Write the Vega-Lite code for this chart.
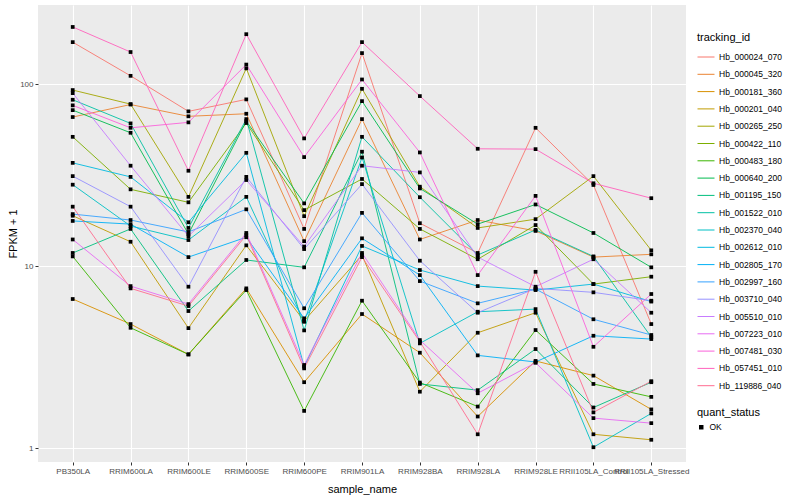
{
"$schema": "https://vega.github.io/schema/vega-lite/v6.json",
"width": 648, "height": 457,
"autosize": {"type": "none"},
"padding": {"left": 38, "top": 5, "right": 114, "bottom": 38},
"background": "white",
"config": {
 "font": "Liberation Sans",
 "view": {"fill": "#EBEBEB", "stroke": null},
 "axis": {"gridColor": "white", "gridWidth": 1.1, "domain": false, "tickColor": "#333333", "tickSize": 3, "labelColor": "#4D4D4D", "labelFontSize": 8, "titleFontSize": 11, "titleFontWeight": "normal", "titleColor": "black", "labelFont": "Liberation Sans", "titleFont": "Liberation Sans"},
 "legend": {"titleFontSize": 11, "titleFontWeight": "normal", "labelFontSize": 8.5, "labelColor": "black", "titleColor": "black", "labelFont": "Liberation Sans", "titleFont": "Liberation Sans"}
},
"datasets": {"genes": [
{"tracking_id":"Hb_000024_070","sample_name":"PB350LA","fpkm_plus_1":170,"quant_status":"OK"},
{"tracking_id":"Hb_000024_070","sample_name":"RRIM600LA","fpkm_plus_1":111,"quant_status":"OK"},
{"tracking_id":"Hb_000024_070","sample_name":"RRIM600LE","fpkm_plus_1":70.8,"quant_status":"OK"},
{"tracking_id":"Hb_000024_070","sample_name":"RRIM600SE","fpkm_plus_1":82.4,"quant_status":"OK"},
{"tracking_id":"Hb_000024_070","sample_name":"RRIM600PE","fpkm_plus_1":16.0,"quant_status":"OK"},
{"tracking_id":"Hb_000024_070","sample_name":"RRIM901LA","fpkm_plus_1":148,"quant_status":"OK"},
{"tracking_id":"Hb_000024_070","sample_name":"RRIM928BA","fpkm_plus_1":17.2,"quant_status":"OK"},
{"tracking_id":"Hb_000024_070","sample_name":"RRIM928LA","fpkm_plus_1":11.8,"quant_status":"OK"},
{"tracking_id":"Hb_000024_070","sample_name":"RRIM928LE","fpkm_plus_1":57.5,"quant_status":"OK"},
{"tracking_id":"Hb_000024_070","sample_name":"RRII105LA_Control","fpkm_plus_1":27.9,"quant_status":"OK"},
{"tracking_id":"Hb_000024_070","sample_name":"RRII105LA_Stressed","fpkm_plus_1":4.80,"quant_status":"OK"},
{"tracking_id":"Hb_000045_320","sample_name":"PB350LA","fpkm_plus_1":65.9,"quant_status":"OK"},
{"tracking_id":"Hb_000045_320","sample_name":"RRIM600LA","fpkm_plus_1":77.2,"quant_status":"OK"},
{"tracking_id":"Hb_000045_320","sample_name":"RRIM600LE","fpkm_plus_1":66.5,"quant_status":"OK"},
{"tracking_id":"Hb_000045_320","sample_name":"RRIM600SE","fpkm_plus_1":68.7,"quant_status":"OK"},
{"tracking_id":"Hb_000045_320","sample_name":"RRIM600PE","fpkm_plus_1":13.7,"quant_status":"OK"},
{"tracking_id":"Hb_000045_320","sample_name":"RRIM901LA","fpkm_plus_1":64.2,"quant_status":"OK"},
{"tracking_id":"Hb_000045_320","sample_name":"RRIM928BA","fpkm_plus_1":14.0,"quant_status":"OK"},
{"tracking_id":"Hb_000045_320","sample_name":"RRIM928LA","fpkm_plus_1":17.9,"quant_status":"OK"},
{"tracking_id":"Hb_000045_320","sample_name":"RRIM928LE","fpkm_plus_1":15.6,"quant_status":"OK"},
{"tracking_id":"Hb_000045_320","sample_name":"RRII105LA_Control","fpkm_plus_1":11.2,"quant_status":"OK"},
{"tracking_id":"Hb_000045_320","sample_name":"RRII105LA_Stressed","fpkm_plus_1":11.6,"quant_status":"OK"},
{"tracking_id":"Hb_000181_360","sample_name":"PB350LA","fpkm_plus_1":6.59,"quant_status":"OK"},
{"tracking_id":"Hb_000181_360","sample_name":"RRIM600LA","fpkm_plus_1":4.80,"quant_status":"OK"},
{"tracking_id":"Hb_000181_360","sample_name":"RRIM600LE","fpkm_plus_1":3.27,"quant_status":"OK"},
{"tracking_id":"Hb_000181_360","sample_name":"RRIM600SE","fpkm_plus_1":7.54,"quant_status":"OK"},
{"tracking_id":"Hb_000181_360","sample_name":"RRIM600PE","fpkm_plus_1":2.30,"quant_status":"OK"},
{"tracking_id":"Hb_000181_360","sample_name":"RRIM901LA","fpkm_plus_1":5.45,"quant_status":"OK"},
{"tracking_id":"Hb_000181_360","sample_name":"RRIM928BA","fpkm_plus_1":3.34,"quant_status":"OK"},
{"tracking_id":"Hb_000181_360","sample_name":"RRIM928LA","fpkm_plus_1":1.49,"quant_status":"OK"},
{"tracking_id":"Hb_000181_360","sample_name":"RRIM928LE","fpkm_plus_1":3.01,"quant_status":"OK"},
{"tracking_id":"Hb_000181_360","sample_name":"RRII105LA_Control","fpkm_plus_1":2.50,"quant_status":"OK"},
{"tracking_id":"Hb_000181_360","sample_name":"RRII105LA_Stressed","fpkm_plus_1":1.63,"quant_status":"OK"},
{"tracking_id":"Hb_000201_040","sample_name":"PB350LA","fpkm_plus_1":18.9,"quant_status":"OK"},
{"tracking_id":"Hb_000201_040","sample_name":"RRIM600LA","fpkm_plus_1":13.6,"quant_status":"OK"},
{"tracking_id":"Hb_000201_040","sample_name":"RRIM600LE","fpkm_plus_1":4.56,"quant_status":"OK"},
{"tracking_id":"Hb_000201_040","sample_name":"RRIM600SE","fpkm_plus_1":13.0,"quant_status":"OK"},
{"tracking_id":"Hb_000201_040","sample_name":"RRIM600PE","fpkm_plus_1":4.99,"quant_status":"OK"},
{"tracking_id":"Hb_000201_040","sample_name":"RRIM901LA","fpkm_plus_1":11.5,"quant_status":"OK"},
{"tracking_id":"Hb_000201_040","sample_name":"RRIM928BA","fpkm_plus_1":2.04,"quant_status":"OK"},
{"tracking_id":"Hb_000201_040","sample_name":"RRIM928LA","fpkm_plus_1":4.30,"quant_status":"OK"},
{"tracking_id":"Hb_000201_040","sample_name":"RRIM928LE","fpkm_plus_1":5.54,"quant_status":"OK"},
{"tracking_id":"Hb_000201_040","sample_name":"RRII105LA_Control","fpkm_plus_1":1.19,"quant_status":"OK"},
{"tracking_id":"Hb_000201_040","sample_name":"RRII105LA_Stressed","fpkm_plus_1":1.11,"quant_status":"OK"},
{"tracking_id":"Hb_000265_250","sample_name":"PB350LA","fpkm_plus_1":92.7,"quant_status":"OK"},
{"tracking_id":"Hb_000265_250","sample_name":"RRIM600LA","fpkm_plus_1":77.6,"quant_status":"OK"},
{"tracking_id":"Hb_000265_250","sample_name":"RRIM600LE","fpkm_plus_1":24.0,"quant_status":"OK"},
{"tracking_id":"Hb_000265_250","sample_name":"RRIM600SE","fpkm_plus_1":122,"quant_status":"OK"},
{"tracking_id":"Hb_000265_250","sample_name":"RRIM600PE","fpkm_plus_1":18.8,"quant_status":"OK"},
{"tracking_id":"Hb_000265_250","sample_name":"RRIM901LA","fpkm_plus_1":94.2,"quant_status":"OK"},
{"tracking_id":"Hb_000265_250","sample_name":"RRIM928BA","fpkm_plus_1":27.3,"quant_status":"OK"},
{"tracking_id":"Hb_000265_250","sample_name":"RRIM928LA","fpkm_plus_1":16.2,"quant_status":"OK"},
{"tracking_id":"Hb_000265_250","sample_name":"RRIM928LE","fpkm_plus_1":18.1,"quant_status":"OK"},
{"tracking_id":"Hb_000265_250","sample_name":"RRII105LA_Control","fpkm_plus_1":31.2,"quant_status":"OK"},
{"tracking_id":"Hb_000265_250","sample_name":"RRII105LA_Stressed","fpkm_plus_1":12.2,"quant_status":"OK"},
{"tracking_id":"Hb_000422_110","sample_name":"PB350LA","fpkm_plus_1":51.3,"quant_status":"OK"},
{"tracking_id":"Hb_000422_110","sample_name":"RRIM600LA","fpkm_plus_1":26.4,"quant_status":"OK"},
{"tracking_id":"Hb_000422_110","sample_name":"RRIM600LE","fpkm_plus_1":22.4,"quant_status":"OK"},
{"tracking_id":"Hb_000422_110","sample_name":"RRIM600SE","fpkm_plus_1":61.1,"quant_status":"OK"},
{"tracking_id":"Hb_000422_110","sample_name":"RRIM600PE","fpkm_plus_1":20.3,"quant_status":"OK"},
{"tracking_id":"Hb_000422_110","sample_name":"RRIM901LA","fpkm_plus_1":30.1,"quant_status":"OK"},
{"tracking_id":"Hb_000422_110","sample_name":"RRIM928BA","fpkm_plus_1":16.0,"quant_status":"OK"},
{"tracking_id":"Hb_000422_110","sample_name":"RRIM928LA","fpkm_plus_1":10.9,"quant_status":"OK"},
{"tracking_id":"Hb_000422_110","sample_name":"RRIM928LE","fpkm_plus_1":16.8,"quant_status":"OK"},
{"tracking_id":"Hb_000422_110","sample_name":"RRII105LA_Control","fpkm_plus_1":7.96,"quant_status":"OK"},
{"tracking_id":"Hb_000422_110","sample_name":"RRII105LA_Stressed","fpkm_plus_1":8.74,"quant_status":"OK"},
{"tracking_id":"Hb_000483_180","sample_name":"PB350LA","fpkm_plus_1":11.3,"quant_status":"OK"},
{"tracking_id":"Hb_000483_180","sample_name":"RRIM600LA","fpkm_plus_1":4.58,"quant_status":"OK"},
{"tracking_id":"Hb_000483_180","sample_name":"RRIM600LE","fpkm_plus_1":3.27,"quant_status":"OK"},
{"tracking_id":"Hb_000483_180","sample_name":"RRIM600SE","fpkm_plus_1":7.38,"quant_status":"OK"},
{"tracking_id":"Hb_000483_180","sample_name":"RRIM600PE","fpkm_plus_1":1.60,"quant_status":"OK"},
{"tracking_id":"Hb_000483_180","sample_name":"RRIM901LA","fpkm_plus_1":6.45,"quant_status":"OK"},
{"tracking_id":"Hb_000483_180","sample_name":"RRIM928BA","fpkm_plus_1":2.29,"quant_status":"OK"},
{"tracking_id":"Hb_000483_180","sample_name":"RRIM928LA","fpkm_plus_1":1.69,"quant_status":"OK"},
{"tracking_id":"Hb_000483_180","sample_name":"RRIM928LE","fpkm_plus_1":4.45,"quant_status":"OK"},
{"tracking_id":"Hb_000483_180","sample_name":"RRII105LA_Control","fpkm_plus_1":2.25,"quant_status":"OK"},
{"tracking_id":"Hb_000483_180","sample_name":"RRII105LA_Stressed","fpkm_plus_1":1.91,"quant_status":"OK"},
{"tracking_id":"Hb_000640_200","sample_name":"PB350LA","fpkm_plus_1":71.9,"quant_status":"OK"},
{"tracking_id":"Hb_000640_200","sample_name":"RRIM600LA","fpkm_plus_1":54.0,"quant_status":"OK"},
{"tracking_id":"Hb_000640_200","sample_name":"RRIM600LE","fpkm_plus_1":15.0,"quant_status":"OK"},
{"tracking_id":"Hb_000640_200","sample_name":"RRIM600SE","fpkm_plus_1":62.6,"quant_status":"OK"},
{"tracking_id":"Hb_000640_200","sample_name":"RRIM600PE","fpkm_plus_1":22.1,"quant_status":"OK"},
{"tracking_id":"Hb_000640_200","sample_name":"RRIM901LA","fpkm_plus_1":80.6,"quant_status":"OK"},
{"tracking_id":"Hb_000640_200","sample_name":"RRIM928BA","fpkm_plus_1":26.7,"quant_status":"OK"},
{"tracking_id":"Hb_000640_200","sample_name":"RRIM928LA","fpkm_plus_1":17.0,"quant_status":"OK"},
{"tracking_id":"Hb_000640_200","sample_name":"RRIM928LE","fpkm_plus_1":21.8,"quant_status":"OK"},
{"tracking_id":"Hb_000640_200","sample_name":"RRII105LA_Control","fpkm_plus_1":15.2,"quant_status":"OK"},
{"tracking_id":"Hb_000640_200","sample_name":"RRII105LA_Stressed","fpkm_plus_1":9.84,"quant_status":"OK"},
{"tracking_id":"Hb_001195_150","sample_name":"PB350LA","fpkm_plus_1":11.8,"quant_status":"OK"},
{"tracking_id":"Hb_001195_150","sample_name":"RRIM600LA","fpkm_plus_1":16.0,"quant_status":"OK"},
{"tracking_id":"Hb_001195_150","sample_name":"RRIM600LE","fpkm_plus_1":5.66,"quant_status":"OK"},
{"tracking_id":"Hb_001195_150","sample_name":"RRIM600SE","fpkm_plus_1":10.8,"quant_status":"OK"},
{"tracking_id":"Hb_001195_150","sample_name":"RRIM600PE","fpkm_plus_1":9.84,"quant_status":"OK"},
{"tracking_id":"Hb_001195_150","sample_name":"RRIM901LA","fpkm_plus_1":42.5,"quant_status":"OK"},
{"tracking_id":"Hb_001195_150","sample_name":"RRIM928BA","fpkm_plus_1":2.25,"quant_status":"OK"},
{"tracking_id":"Hb_001195_150","sample_name":"RRIM928LA","fpkm_plus_1":2.08,"quant_status":"OK"},
{"tracking_id":"Hb_001195_150","sample_name":"RRIM928LE","fpkm_plus_1":3.50,"quant_status":"OK"},
{"tracking_id":"Hb_001195_150","sample_name":"RRII105LA_Control","fpkm_plus_1":1.67,"quant_status":"OK"},
{"tracking_id":"Hb_001195_150","sample_name":"RRII105LA_Stressed","fpkm_plus_1":2.30,"quant_status":"OK"},
{"tracking_id":"Hb_001522_010","sample_name":"PB350LA","fpkm_plus_1":82.0,"quant_status":"OK"},
{"tracking_id":"Hb_001522_010","sample_name":"RRIM600LA","fpkm_plus_1":60.8,"quant_status":"OK"},
{"tracking_id":"Hb_001522_010","sample_name":"RRIM600LE","fpkm_plus_1":16.2,"quant_status":"OK"},
{"tracking_id":"Hb_001522_010","sample_name":"RRIM600SE","fpkm_plus_1":64.2,"quant_status":"OK"},
{"tracking_id":"Hb_001522_010","sample_name":"RRIM600PE","fpkm_plus_1":4.43,"quant_status":"OK"},
{"tracking_id":"Hb_001522_010","sample_name":"RRIM901LA","fpkm_plus_1":51.3,"quant_status":"OK"},
{"tracking_id":"Hb_001522_010","sample_name":"RRIM928BA","fpkm_plus_1":23.9,"quant_status":"OK"},
{"tracking_id":"Hb_001522_010","sample_name":"RRIM928LA","fpkm_plus_1":11.5,"quant_status":"OK"},
{"tracking_id":"Hb_001522_010","sample_name":"RRIM928LE","fpkm_plus_1":15.8,"quant_status":"OK"},
{"tracking_id":"Hb_001522_010","sample_name":"RRII105LA_Control","fpkm_plus_1":11.3,"quant_status":"OK"},
{"tracking_id":"Hb_001522_010","sample_name":"RRII105LA_Stressed","fpkm_plus_1":4.07,"quant_status":"OK"},
{"tracking_id":"Hb_002370_040","sample_name":"PB350LA","fpkm_plus_1":28.0,"quant_status":"OK"},
{"tracking_id":"Hb_002370_040","sample_name":"RRIM600LA","fpkm_plus_1":16.6,"quant_status":"OK"},
{"tracking_id":"Hb_002370_040","sample_name":"RRIM600LE","fpkm_plus_1":13.9,"quant_status":"OK"},
{"tracking_id":"Hb_002370_040","sample_name":"RRIM600SE","fpkm_plus_1":24.0,"quant_status":"OK"},
{"tracking_id":"Hb_002370_040","sample_name":"RRIM600PE","fpkm_plus_1":4.94,"quant_status":"OK"},
{"tracking_id":"Hb_002370_040","sample_name":"RRIM901LA","fpkm_plus_1":39.5,"quant_status":"OK"},
{"tracking_id":"Hb_002370_040","sample_name":"RRIM928BA","fpkm_plus_1":3.76,"quant_status":"OK"},
{"tracking_id":"Hb_002370_040","sample_name":"RRIM928LA","fpkm_plus_1":5.61,"quant_status":"OK"},
{"tracking_id":"Hb_002370_040","sample_name":"RRIM928LE","fpkm_plus_1":5.80,"quant_status":"OK"},
{"tracking_id":"Hb_002370_040","sample_name":"RRII105LA_Control","fpkm_plus_1":1.01,"quant_status":"OK"},
{"tracking_id":"Hb_002370_040","sample_name":"RRII105LA_Stressed","fpkm_plus_1":1.55,"quant_status":"OK"},
{"tracking_id":"Hb_002612_010","sample_name":"PB350LA","fpkm_plus_1":36.9,"quant_status":"OK"},
{"tracking_id":"Hb_002612_010","sample_name":"RRIM600LA","fpkm_plus_1":30.9,"quant_status":"OK"},
{"tracking_id":"Hb_002612_010","sample_name":"RRIM600LE","fpkm_plus_1":17.4,"quant_status":"OK"},
{"tracking_id":"Hb_002612_010","sample_name":"RRIM600SE","fpkm_plus_1":41.9,"quant_status":"OK"},
{"tracking_id":"Hb_002612_010","sample_name":"RRIM600PE","fpkm_plus_1":2.80,"quant_status":"OK"},
{"tracking_id":"Hb_002612_010","sample_name":"RRIM901LA","fpkm_plus_1":12.9,"quant_status":"OK"},
{"tracking_id":"Hb_002612_010","sample_name":"RRIM928BA","fpkm_plus_1":9.51,"quant_status":"OK"},
{"tracking_id":"Hb_002612_010","sample_name":"RRIM928LA","fpkm_plus_1":7.76,"quant_status":"OK"},
{"tracking_id":"Hb_002612_010","sample_name":"RRIM928LE","fpkm_plus_1":7.38,"quant_status":"OK"},
{"tracking_id":"Hb_002612_010","sample_name":"RRII105LA_Control","fpkm_plus_1":7.96,"quant_status":"OK"},
{"tracking_id":"Hb_002612_010","sample_name":"RRII105LA_Stressed","fpkm_plus_1":6.38,"quant_status":"OK"},
{"tracking_id":"Hb_002805_170","sample_name":"PB350LA","fpkm_plus_1":17.7,"quant_status":"OK"},
{"tracking_id":"Hb_002805_170","sample_name":"RRIM600LA","fpkm_plus_1":17.0,"quant_status":"OK"},
{"tracking_id":"Hb_002805_170","sample_name":"RRIM600LE","fpkm_plus_1":11.2,"quant_status":"OK"},
{"tracking_id":"Hb_002805_170","sample_name":"RRIM600SE","fpkm_plus_1":14.4,"quant_status":"OK"},
{"tracking_id":"Hb_002805_170","sample_name":"RRIM600PE","fpkm_plus_1":5.16,"quant_status":"OK"},
{"tracking_id":"Hb_002805_170","sample_name":"RRIM901LA","fpkm_plus_1":14.2,"quant_status":"OK"},
{"tracking_id":"Hb_002805_170","sample_name":"RRIM928BA","fpkm_plus_1":8.92,"quant_status":"OK"},
{"tracking_id":"Hb_002805_170","sample_name":"RRIM928LA","fpkm_plus_1":3.23,"quant_status":"OK"},
{"tracking_id":"Hb_002805_170","sample_name":"RRIM928LE","fpkm_plus_1":2.97,"quant_status":"OK"},
{"tracking_id":"Hb_002805_170","sample_name":"RRII105LA_Control","fpkm_plus_1":4.14,"quant_status":"OK"},
{"tracking_id":"Hb_002805_170","sample_name":"RRII105LA_Stressed","fpkm_plus_1":3.97,"quant_status":"OK"},
{"tracking_id":"Hb_002997_160","sample_name":"PB350LA","fpkm_plus_1":19.3,"quant_status":"OK"},
{"tracking_id":"Hb_002997_160","sample_name":"RRIM600LA","fpkm_plus_1":17.9,"quant_status":"OK"},
{"tracking_id":"Hb_002997_160","sample_name":"RRIM600LE","fpkm_plus_1":15.4,"quant_status":"OK"},
{"tracking_id":"Hb_002997_160","sample_name":"RRIM600SE","fpkm_plus_1":20.5,"quant_status":"OK"},
{"tracking_id":"Hb_002997_160","sample_name":"RRIM600PE","fpkm_plus_1":5.86,"quant_status":"OK"},
{"tracking_id":"Hb_002997_160","sample_name":"RRIM901LA","fpkm_plus_1":19.6,"quant_status":"OK"},
{"tracking_id":"Hb_002997_160","sample_name":"RRIM928BA","fpkm_plus_1":8.27,"quant_status":"OK"},
{"tracking_id":"Hb_002997_160","sample_name":"RRIM928LA","fpkm_plus_1":6.24,"quant_status":"OK"},
{"tracking_id":"Hb_002997_160","sample_name":"RRIM928LE","fpkm_plus_1":7.47,"quant_status":"OK"},
{"tracking_id":"Hb_002997_160","sample_name":"RRII105LA_Control","fpkm_plus_1":5.10,"quant_status":"OK"},
{"tracking_id":"Hb_002997_160","sample_name":"RRII105LA_Stressed","fpkm_plus_1":4.18,"quant_status":"OK"},
{"tracking_id":"Hb_003710_040","sample_name":"PB350LA","fpkm_plus_1":31.2,"quant_status":"OK"},
{"tracking_id":"Hb_003710_040","sample_name":"RRIM600LA","fpkm_plus_1":21.2,"quant_status":"OK"},
{"tracking_id":"Hb_003710_040","sample_name":"RRIM600LE","fpkm_plus_1":7.70,"quant_status":"OK"},
{"tracking_id":"Hb_003710_040","sample_name":"RRIM600SE","fpkm_plus_1":30.9,"quant_status":"OK"},
{"tracking_id":"Hb_003710_040","sample_name":"RRIM600PE","fpkm_plus_1":12.4,"quant_status":"OK"},
{"tracking_id":"Hb_003710_040","sample_name":"RRIM901LA","fpkm_plus_1":28.2,"quant_status":"OK"},
{"tracking_id":"Hb_003710_040","sample_name":"RRIM928BA","fpkm_plus_1":10.7,"quant_status":"OK"},
{"tracking_id":"Hb_003710_040","sample_name":"RRIM928LA","fpkm_plus_1":5.54,"quant_status":"OK"},
{"tracking_id":"Hb_003710_040","sample_name":"RRIM928LE","fpkm_plus_1":7.54,"quant_status":"OK"},
{"tracking_id":"Hb_003710_040","sample_name":"RRII105LA_Control","fpkm_plus_1":7.17,"quant_status":"OK"},
{"tracking_id":"Hb_003710_040","sample_name":"RRII105LA_Stressed","fpkm_plus_1":6.45,"quant_status":"OK"},
{"tracking_id":"Hb_005510_010","sample_name":"PB350LA","fpkm_plus_1":89.2,"quant_status":"OK"},
{"tracking_id":"Hb_005510_010","sample_name":"RRIM600LA","fpkm_plus_1":35.6,"quant_status":"OK"},
{"tracking_id":"Hb_005510_010","sample_name":"RRIM600LE","fpkm_plus_1":14.6,"quant_status":"OK"},
{"tracking_id":"Hb_005510_010","sample_name":"RRIM600SE","fpkm_plus_1":29.7,"quant_status":"OK"},
{"tracking_id":"Hb_005510_010","sample_name":"RRIM600PE","fpkm_plus_1":12.8,"quant_status":"OK"},
{"tracking_id":"Hb_005510_010","sample_name":"RRIM901LA","fpkm_plus_1":35.6,"quant_status":"OK"},
{"tracking_id":"Hb_005510_010","sample_name":"RRIM928BA","fpkm_plus_1":32.7,"quant_status":"OK"},
{"tracking_id":"Hb_005510_010","sample_name":"RRIM928LA","fpkm_plus_1":11.2,"quant_status":"OK"},
{"tracking_id":"Hb_005510_010","sample_name":"RRIM928LE","fpkm_plus_1":7.70,"quant_status":"OK"},
{"tracking_id":"Hb_005510_010","sample_name":"RRII105LA_Control","fpkm_plus_1":10.9,"quant_status":"OK"},
{"tracking_id":"Hb_005510_010","sample_name":"RRII105LA_Stressed","fpkm_plus_1":5.54,"quant_status":"OK"},
{"tracking_id":"Hb_007223_010","sample_name":"PB350LA","fpkm_plus_1":14.0,"quant_status":"OK"},
{"tracking_id":"Hb_007223_010","sample_name":"RRIM600LA","fpkm_plus_1":7.76,"quant_status":"OK"},
{"tracking_id":"Hb_007223_010","sample_name":"RRIM600LE","fpkm_plus_1":6.18,"quant_status":"OK"},
{"tracking_id":"Hb_007223_010","sample_name":"RRIM600SE","fpkm_plus_1":15.2,"quant_status":"OK"},
{"tracking_id":"Hb_007223_010","sample_name":"RRIM600PE","fpkm_plus_1":2.86,"quant_status":"OK"},
{"tracking_id":"Hb_007223_010","sample_name":"RRIM901LA","fpkm_plus_1":11.8,"quant_status":"OK"},
{"tracking_id":"Hb_007223_010","sample_name":"RRIM928BA","fpkm_plus_1":3.92,"quant_status":"OK"},
{"tracking_id":"Hb_007223_010","sample_name":"RRIM928LA","fpkm_plus_1":2.00,"quant_status":"OK"},
{"tracking_id":"Hb_007223_010","sample_name":"RRIM928LE","fpkm_plus_1":2.94,"quant_status":"OK"},
{"tracking_id":"Hb_007223_010","sample_name":"RRII105LA_Control","fpkm_plus_1":1.46,"quant_status":"OK"},
{"tracking_id":"Hb_007223_010","sample_name":"RRII105LA_Stressed","fpkm_plus_1":1.37,"quant_status":"OK"},
{"tracking_id":"Hb_007481_030","sample_name":"PB350LA","fpkm_plus_1":76.4,"quant_status":"OK"},
{"tracking_id":"Hb_007481_030","sample_name":"RRIM600LA","fpkm_plus_1":57.5,"quant_status":"OK"},
{"tracking_id":"Hb_007481_030","sample_name":"RRIM600LE","fpkm_plus_1":61.6,"quant_status":"OK"},
{"tracking_id":"Hb_007481_030","sample_name":"RRIM600SE","fpkm_plus_1":128,"quant_status":"OK"},
{"tracking_id":"Hb_007481_030","sample_name":"RRIM600PE","fpkm_plus_1":39.7,"quant_status":"OK"},
{"tracking_id":"Hb_007481_030","sample_name":"RRIM901LA","fpkm_plus_1":106,"quant_status":"OK"},
{"tracking_id":"Hb_007481_030","sample_name":"RRIM928BA","fpkm_plus_1":42.1,"quant_status":"OK"},
{"tracking_id":"Hb_007481_030","sample_name":"RRIM928LA","fpkm_plus_1":8.92,"quant_status":"OK"},
{"tracking_id":"Hb_007481_030","sample_name":"RRIM928LE","fpkm_plus_1":24.3,"quant_status":"OK"},
{"tracking_id":"Hb_007481_030","sample_name":"RRII105LA_Control","fpkm_plus_1":3.60,"quant_status":"OK"},
{"tracking_id":"Hb_007481_030","sample_name":"RRII105LA_Stressed","fpkm_plus_1":7.02,"quant_status":"OK"},
{"tracking_id":"Hb_057451_010","sample_name":"PB350LA","fpkm_plus_1":206,"quant_status":"OK"},
{"tracking_id":"Hb_057451_010","sample_name":"RRIM600LA","fpkm_plus_1":150,"quant_status":"OK"},
{"tracking_id":"Hb_057451_010","sample_name":"RRIM600LE","fpkm_plus_1":33.4,"quant_status":"OK"},
{"tracking_id":"Hb_057451_010","sample_name":"RRIM600SE","fpkm_plus_1":188,"quant_status":"OK"},
{"tracking_id":"Hb_057451_010","sample_name":"RRIM600PE","fpkm_plus_1":50.3,"quant_status":"OK"},
{"tracking_id":"Hb_057451_010","sample_name":"RRIM901LA","fpkm_plus_1":170,"quant_status":"OK"},
{"tracking_id":"Hb_057451_010","sample_name":"RRIM928BA","fpkm_plus_1":85.9,"quant_status":"OK"},
{"tracking_id":"Hb_057451_010","sample_name":"RRIM928LA","fpkm_plus_1":44.1,"quant_status":"OK"},
{"tracking_id":"Hb_057451_010","sample_name":"RRIM928LE","fpkm_plus_1":43.9,"quant_status":"OK"},
{"tracking_id":"Hb_057451_010","sample_name":"RRII105LA_Control","fpkm_plus_1":28.5,"quant_status":"OK"},
{"tracking_id":"Hb_057451_010","sample_name":"RRII105LA_Stressed","fpkm_plus_1":23.6,"quant_status":"OK"},
{"tracking_id":"Hb_119886_040","sample_name":"PB350LA","fpkm_plus_1":21.2,"quant_status":"OK"},
{"tracking_id":"Hb_119886_040","sample_name":"RRIM600LA","fpkm_plus_1":7.54,"quant_status":"OK"},
{"tracking_id":"Hb_119886_040","sample_name":"RRIM600LE","fpkm_plus_1":6.03,"quant_status":"OK"},
{"tracking_id":"Hb_119886_040","sample_name":"RRIM600SE","fpkm_plus_1":14.8,"quant_status":"OK"},
{"tracking_id":"Hb_119886_040","sample_name":"RRIM600PE","fpkm_plus_1":2.74,"quant_status":"OK"},
{"tracking_id":"Hb_119886_040","sample_name":"RRIM901LA","fpkm_plus_1":11.2,"quant_status":"OK"},
{"tracking_id":"Hb_119886_040","sample_name":"RRIM928BA","fpkm_plus_1":3.84,"quant_status":"OK"},
{"tracking_id":"Hb_119886_040","sample_name":"RRIM928LA","fpkm_plus_1":1.19,"quant_status":"OK"},
{"tracking_id":"Hb_119886_040","sample_name":"RRIM928LE","fpkm_plus_1":9.30,"quant_status":"OK"},
{"tracking_id":"Hb_119886_040","sample_name":"RRII105LA_Control","fpkm_plus_1":1.57,"quant_status":"OK"},
{"tracking_id":"Hb_119886_040","sample_name":"RRII105LA_Stressed","fpkm_plus_1":2.33,"quant_status":"OK"}
]},
"data": {"name": "genes"},
"encoding": {
 "x": {"field": "sample_name", "type": "nominal",
  "sort": ["PB350LA","RRIM600LA","RRIM600LE","RRIM600SE","RRIM600PE","RRIM901LA","RRIM928BA","RRIM928LA","RRIM928LE","RRII105LA_Control","RRII105LA_Stressed"],
  "scale": {"type": "point", "padding": 0.6},
  "axis": {"title": "sample_name", "labelAngle": 0, "labelOverlap": false, "labelBound": false, "labelPadding": 2, "titlePadding": 8, "grid": true}},
 "y": {"field": "fpkm_plus_1", "type": "quantitative",
  "scale": {"type": "log", "domain": [0.838, 272], "nice": false},
  "axis": {"title": "FPKM + 1", "values": [1, 10, 100], "format": "d", "labelPadding": 2, "titlePadding": 1, "grid": true}}
},
"layer": [
 {"mark": {"type": "line", "strokeWidth": 0.9},
  "encoding": {"color": {"field": "tracking_id", "type": "nominal",
   "scale": {"domain": ["Hb_000024_070","Hb_000045_320","Hb_000181_360","Hb_000201_040","Hb_000265_250","Hb_000422_110","Hb_000483_180","Hb_000640_200","Hb_001195_150","Hb_001522_010","Hb_002370_040","Hb_002612_010","Hb_002805_170","Hb_002997_160","Hb_003710_040","Hb_005510_010","Hb_007223_010","Hb_007481_030","Hb_057451_010","Hb_119886_040"],
    "range": ["#F8766D","#EA8331","#D89000","#C09B00","#A3A500","#7CAE00","#39B600","#00BB4E","#00BF7D","#00C1A3","#00BFC4","#00BAE0","#00B0F6","#35A2FF","#9590FF","#C77CFF","#E76BF3","#FA62DB","#FF62BC","#FF6C90"]},
   "legend": {"title": "tracking_id", "orient": "none", "legendX": 659, "legendY": 27, "symbolType": "stroke", "symbolSize": 289, "symbolStrokeWidth": 1, "rowPadding": 3.3, "titlePadding": 5}}}},
 {"mark": {"type": "point", "filled": true, "opacity": 1, "color": "black", "size": 14},
  "encoding": {"shape": {"field": "quant_status", "type": "nominal", "scale": {"range": ["square"]},
   "legend": {"title": "quant_status", "orient": "none", "legendX": 659, "legendY": 402, "symbolSize": 20, "symbolFillColor": "black", "symbolStrokeColor": "black"}}}}
]
}
